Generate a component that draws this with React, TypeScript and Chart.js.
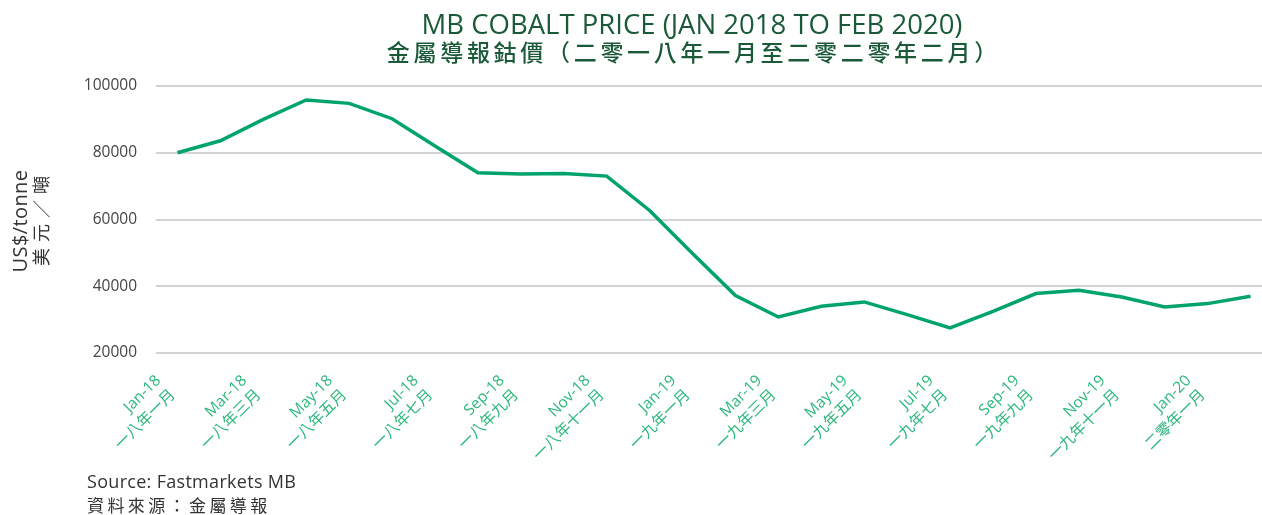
import React, { useEffect, useRef } from 'react';
import { Chart, registerables } from 'chart.js';

Chart.register(...registerables);

const months = [
  'Jan-18', 'Feb-18', 'Mar-18', 'Apr-18', 'May-18', 'Jun-18', 'Jul-18', 'Aug-18', 'Sep-18', 'Oct-18', 'Nov-18', 'Dec-18',
  'Jan-19', 'Feb-19', 'Mar-19', 'Apr-19', 'May-19', 'Jun-19', 'Jul-19', 'Aug-19', 'Sep-19', 'Oct-19', 'Nov-19', 'Dec-19',
  'Jan-20', 'Feb-20',
];
const monthsZh = [
  '一八年一月', '一八年二月', '一八年三月', '一八年四月', '一八年五月', '一八年六月', '一八年七月', '一八年八月', '一八年九月', '一八年十月', '一八年十一月', '一八年十二月',
  '一九年一月', '一九年二月', '一九年三月', '一九年四月', '一九年五月', '一九年六月', '一九年七月', '一九年八月', '一九年九月', '一九年十月', '一九年十一月', '一九年十二月',
  '二零年一月', '二零年二月',
];
const cobaltPrice = [
  80000, 83600, 90000, 95800, 94800, 90200, 82000, 74000, 73600, 73800, 73000, 62700,
  49800, 37200, 30800, 34000, 35300, 31500, 27500, 32500, 37800, 38800, 36800, 33800,
  34800, 37000,
];
const yMin = 20000;
const yMax = 100000;
const yStep = 20000;

const titleLines = ['MB COBALT PRICE (JAN 2018 TO FEB 2020)', '金屬導報鈷價（二零一八年一月至二零二零年二月）'];
const yTitleLines = ['US$/tonne', '美元／噸'];
const sourceLines = ['Source: Fastmarkets MB', '資料來源：金屬導報'];

const LATIN = "'Open Sans', 'Noto Sans CJK TC', sans-serif";
const CJK = "'Noto Sans CJK TC', sans-serif";

export default function App() {
  const ref = useRef<HTMLCanvasElement | null>(null);

  useEffect(() => {
    if (!ref.current) return;
    const chart = new Chart(ref.current, {
      type: 'line',
      data: {
        labels: months,
        datasets: [
          {
            label: 'MB Cobalt',
            data: cobaltPrice,
            borderColor: '#00a36b',
            backgroundColor: '#00a36b',
            borderWidth: 3.5,
            pointRadius: 0,
            tension: 0,
          },
        ],
      },
      options: {
        responsive: false,
        animation: false,
        layout: { padding: { left: 0, right: 112, top: 86, bottom: 0 } },
        plugins: {
          legend: { display: false },
          tooltip: { enabled: false },
          title: { display: false },
        },
        scales: {
          x: {
            offset: true,
            grid: { display: false, drawTicks: false },
            border: { display: false },
            ticks: {
              autoSkip: false,
              maxRotation: 45,
              minRotation: 45,
              padding: 18,
              labelOffset: -19,
              color: '#2db87d',
              font: { family: LATIN, size: 15.5, lineHeight: 1.3 },
              callback: (_v: any, i: number) => (i % 2 === 0 ? [months[i], monthsZh[i]] : ''),
            },
            afterFit: (s: any) => {
              s.height = 117;
            },
          },
          y: {
            min: yMin,
            max: yMax,
            grid: { color: '#d4d4d4', lineWidth: 2, drawTicks: false },
            border: { display: false },
            ticks: {
              stepSize: yStep,
              padding: 19,
              color: '#444444',
              font: { family: LATIN, size: 15.5 },
              callback: (v: any) => String(v),
            },
            title: { display: false },
            afterFit: (s: any) => {
              s.width = 156;
            },
          },
        },
      },
    });
    return () => chart.destroy();
  }, []);

  const titleBase: React.CSSProperties = {
    position: 'absolute',
    left: 0,
    width: 1384,
    textAlign: 'center',
    color: '#1b5a38',
    whiteSpace: 'nowrap',
  };

  return (
    <div style={{ position: 'absolute', left: 0, top: 0, width: 1262, height: 515, overflow: 'hidden', background: '#fff' }}>
      <canvas ref={ref} width={1384} height={470} style={{ position: 'absolute', left: 0, top: 0, width: 1384, height: 470 }} />
      <div style={{ ...titleBase, top: 6, fontFamily: LATIN, fontSize: 27.5, lineHeight: '36px' }}>{titleLines[0]}</div>
      <div
        style={{
          ...titleBase,
          top: 36,
          fontFamily: CJK,
          fontWeight: 500,
          fontSize: 23,
          letterSpacing: '3.7px',
          paddingLeft: 3.7,
          boxSizing: 'border-box',
          lineHeight: '30px',
        }}
      >
        {titleLines[1]}
      </div>
      <div
        style={{
          position: 'absolute',
          left: -70,
          top: 200.5,
          width: 200,
          height: 40,
          transform: 'rotate(-90deg)',
          transformOrigin: '100px 20px',
          textAlign: 'center',
          color: '#333333',
          whiteSpace: 'nowrap',
        }}
      >
        <div style={{ fontFamily: LATIN, fontSize: 20, letterSpacing: '0.4px', lineHeight: '20px' }}>{yTitleLines[0]}</div>
        <div style={{ fontFamily: CJK, fontSize: 18, letterSpacing: '6px', paddingLeft: 6, lineHeight: '20px' }}>{yTitleLines[1]}</div>
      </div>
      <div
        style={{
          position: 'absolute',
          left: 87,
          top: 470,
          fontFamily: LATIN,
          fontSize: 18,
          letterSpacing: '0.3px',
          lineHeight: '23px',
          color: '#333333',
          whiteSpace: 'nowrap',
        }}
      >
        <div>{sourceLines[0]}</div>
        <div style={{ fontFamily: CJK, fontSize: 17, letterSpacing: '3.4px' }}>{sourceLines[1]}</div>
      </div>
    </div>
  );
}
